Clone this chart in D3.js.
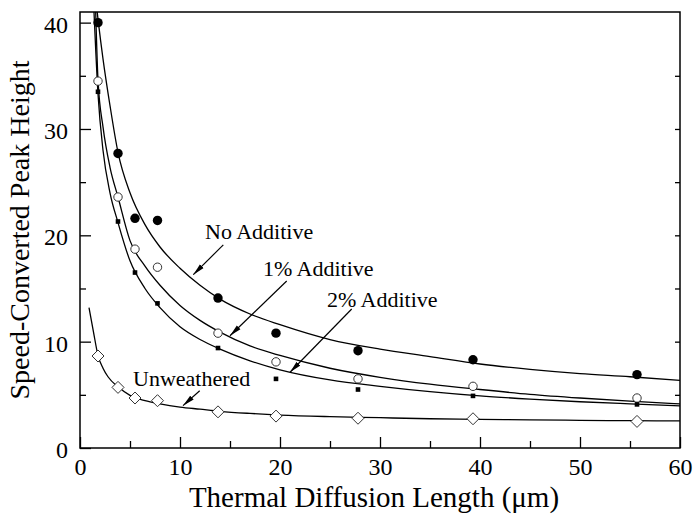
<!DOCTYPE html>
<html>
<head>
<meta charset="utf-8">
<script src="https://cdn.jsdelivr.net/npm/d3@7"></script>
<style>
  body { margin: 0; background: #fff; }
  svg { display: block; }
  text { font-family: "Liberation Serif", "Times New Roman", Times, serif; fill: #000; }
</style>
</head>
<body>
<svg id="chart" width="696" height="516"></svg>
<script>
// Measured peak heights versus thermal diffusion length (µm)
const diffusionLength = [1.8, 3.8, 5.5, 7.75, 13.8, 19.6, 27.8, 39.3, 55.7];
const noAdditive  = [40.0, 27.7, 21.6, 21.4, 14.1, 10.8, 9.15, 8.3, 6.9];
const additive1   = [34.5, 23.6, 18.7, 17.0, 10.8, 8.1, 6.5, 5.8, 4.7];
const additive2   = [33.5, 21.3, 16.5, 13.6, 9.4, 6.5, 5.5, 4.9, 4.1];
const unweathered = [8.65, 5.7, 4.7, 4.45, 3.4, 3.0, 2.8, 2.75, 2.5];

// Fitted trend curves, [length, height]
const fitNoAdditive = [[1.72, 41], [1.83, 40.1], [2.3, 36.6], [3, 32.2], [3.8, 27.8], [5, 24.0], [6.5, 21.0],
  [8, 18.9], [10, 16.9], [12, 15.3], [14, 14.0], [17, 12.6], [20, 11.6], [25, 10.2], [30, 9.3],
  [35, 8.6], [40, 7.9], [45, 7.4], [50, 7.0], [55, 6.7], [60, 6.35]];
const fitAdditive1 = [[1.57, 41], [1.8, 34.6], [2.3, 30.2], [3, 26.4], [3.8, 23.6], [5, 19.5], [6.5, 17.1],
  [8, 15.3], [10, 13.4], [12, 12.0], [14, 10.9], [17, 9.6], [20, 8.7], [25, 7.5], [30, 6.65],
  [35, 6.0], [40, 5.5], [45, 5.05], [50, 4.7], [55, 4.4], [60, 4.15]];
const fitAdditive2 = [[1.4, 41], [1.8, 33.3], [2.3, 28.0], [3, 24.0], [3.8, 21.2], [5, 17.6], [6.5, 15.0],
  [8, 13.2], [10, 11.4], [12, 10.2], [14, 9.3], [17, 8.2], [20, 7.35], [25, 6.4], [30, 5.8],
  [35, 5.3], [40, 4.9], [45, 4.6], [50, 4.35], [55, 4.15], [60, 3.97]];
const fitUnweathered = [[0.9, 13.2], [1.35, 10.9], [1.8, 8.7], [2.3, 7.5], [2.8, 6.7], [3.8, 5.75], [5, 4.95],
  [6.5, 4.45], [8, 4.15], [10, 3.85], [12, 3.65], [14, 3.45], [17, 3.25], [20, 3.1], [25, 2.95],
  [30, 2.85], [35, 2.75], [40, 2.7], [45, 2.65], [50, 2.6], [55, 2.57], [60, 2.55]];

// Axis ticks
const xMajorTicks = [0, 10, 20, 30, 40, 50, 60];
const xMinorTicks = [5, 15, 25, 35, 45, 55];
const yMajorTicks = [0, 10, 20, 30, 40];
const yMinorTicks = [5, 15, 25, 35];

const xTitle = "Thermal Diffusion Length (\u03bcm)";
const yTitle = "Speed-Converted Peak Height";

// Curve call-outs: label text, label anchor, arrow tail and tip (data units)
const labels = [
  { text: "No Additive", at: [12.5, 19.66], tail: [14.33, 19.1], tip: [11.33, 16.3] },
  { text: "1% Additive", at: [18.3, 16.18], tail: [20.67, 15.7], tip: [15.0, 10.56] },
  { text: "2% Additive", at: [24.7, 13.26], tail: [27.17, 13.07], tip: [21.0, 7.12] },
  { text: "Unweathered", at: [5.3, 5.86], tail: [11.97, 5.39], tip: [10.3, 3.98] }
];

const svg = d3.select("#chart");
const plot = { left: 80, right: 680, top: 12, bottom: 448 };

const x = d3.scaleLinear().domain([0, 60]).range([plot.left, plot.right]);
const y = d3.scaleLinear().domain([0, 41]).range([plot.bottom, plot.top]);

const defs = svg.append("defs");
defs.append("clipPath").attr("id", "plot-clip")
  .append("rect")
  .attr("x", plot.left).attr("y", plot.top)
  .attr("width", plot.right - plot.left).attr("height", plot.bottom - plot.top);

defs.append("marker")
  .attr("id", "arrowhead")
  .attr("viewBox", "0 0 12 6")
  .attr("refX", 12).attr("refY", 3)
  .attr("markerUnits", "userSpaceOnUse")
  .attr("markerWidth", 12).attr("markerHeight", 6)
  .attr("orient", "auto")
  .append("path").attr("d", "M0,0.4 L12,3 L0,5.6 Z").attr("fill", "#000");

// Axes with inward ticks
function styleAxis(g) {
  g.select(".domain").remove();
  g.selectAll(".tick line").attr("stroke", "#000").attr("stroke-width", 1.3);
  g.selectAll("text").style("font-size", "24px").attr("fill", "#000");
}

svg.append("g").attr("transform", `translate(0,${plot.bottom})`)
  .call(d3.axisBottom(x).tickValues(xMajorTicks).tickSize(-11).tickPadding(10).tickFormat(d3.format("d")))
  .call(styleAxis)
  .call(g => g.selectAll("text").attr("dy", "0.71em"));

svg.append("g").attr("transform", `translate(0,${plot.bottom})`)
  .call(d3.axisBottom(x).tickValues(xMinorTicks).tickSize(-7).tickFormat(""))
  .call(styleAxis);

svg.append("g").attr("transform", `translate(${plot.left},0)`)
  .call(d3.axisLeft(y).tickValues(yMajorTicks).tickSize(-11).tickPadding(12).tickFormat(d3.format("d")))
  .call(styleAxis)
  .call(g => g.selectAll("text").attr("dy", "0.4em"));

svg.append("g").attr("transform", `translate(${plot.left},0)`)
  .call(d3.axisLeft(y).tickValues(yMinorTicks).tickSize(-6).tickFormat(""))
  .call(styleAxis);

svg.append("g").attr("transform", `translate(${plot.right},0)`)
  .call(d3.axisRight(y).tickValues(yMinorTicks.concat(yMajorTicks.slice(1, -1))).tickSize(-5).tickFormat(""))
  .call(styleAxis);

// Plot frame
svg.append("rect")
  .attr("x", plot.left).attr("y", plot.top)
  .attr("width", plot.right - plot.left).attr("height", plot.bottom - plot.top)
  .attr("fill", "none").attr("stroke", "#000").attr("stroke-width", 1.5);

// Axis titles
svg.append("text")
  .attr("x", 374).attr("y", 507)
  .attr("text-anchor", "middle").style("font-size", "29px")
  .text(xTitle);

svg.append("text")
  .attr("transform", `translate(29,${(plot.top + plot.bottom) / 2}) rotate(-90)`)
  .attr("text-anchor", "middle").style("font-size", "28px")
  .text(yTitle);

// Fitted curves
const line = d3.line().x(d => x(d[0])).y(d => y(d[1])).curve(d3.curveMonotoneX);
const curves = svg.append("g").attr("clip-path", "url(#plot-clip)");
[fitNoAdditive, fitAdditive1, fitAdditive2, fitUnweathered].forEach(pts => {
  curves.append("path").attr("d", line(pts))
    .attr("fill", "none").attr("stroke", "#000").attr("stroke-width", 1.3);
});

// Data markers
const pts = series => diffusionLength.map((d, i) => [d, series[i]]);
const marks = svg.append("g");

marks.selectAll(".no-add").data(pts(noAdditive)).join("circle")
  .attr("cx", d => x(d[0])).attr("cy", d => y(d[1])).attr("r", 4.7)
  .attr("fill", "#000");

marks.selectAll(".add1").data(pts(additive1)).join("circle")
  .attr("cx", d => x(d[0])).attr("cy", d => y(d[1])).attr("r", 4.2)
  .attr("fill", "#fff").attr("stroke", "#333").attr("stroke-width", 1);

marks.selectAll(".add2").data(pts(additive2)).join("rect")
  .attr("x", d => x(d[0]) - 2.3).attr("y", d => y(d[1]) - 2.3)
  .attr("width", 4.6).attr("height", 4.6).attr("fill", "#000");

marks.selectAll(".unw").data(pts(unweathered)).join("path")
  .attr("d", d => {
    const cx = x(d[0]), cy = y(d[1]), r = 6;
    return `M${cx},${cy - r} L${cx + r},${cy} L${cx},${cy + r} L${cx - r},${cy} Z`;
  })
  .attr("fill", "#fff").attr("stroke", "#333").attr("stroke-width", 1);

// Call-out labels with arrows
const notes = svg.append("g");
labels.forEach(l => {
  notes.append("line")
    .attr("x1", x(l.tail[0])).attr("y1", y(l.tail[1]))
    .attr("x2", x(l.tip[0])).attr("y2", y(l.tip[1]))
    .attr("stroke", "#000").attr("stroke-width", 1.2)
    .attr("marker-end", "url(#arrowhead)");
  notes.append("text")
    .attr("x", x(l.at[0])).attr("y", y(l.at[1]))
    .style("font-size", "22px")
    .text(l.text);
});
</script>
</body>
</html>
